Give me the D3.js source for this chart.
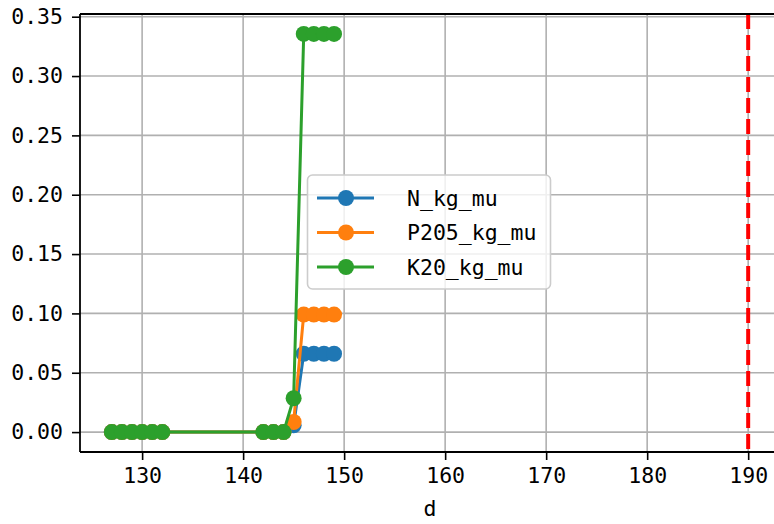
<!DOCTYPE html>
<html>
<head>
<meta charset="utf-8">
<script src="https://cdn.jsdelivr.net/npm/d3@7"></script>
<style>
  html, body { margin: 0; padding: 0; background: #fff; }
  svg { display: block; }
  text { font-family: "DejaVu Sans Mono", "Liberation Mono", monospace; }
</style>
</head>
<body>
<svg id="chart" width="774" height="524"></svg>
<script>
const days = [127, 128, 129, 130, 131, 132, 142, 143, 144, 145, 146, 147, 148, 149];
const nValues = [0, 0, 0, 0, 0, 0, 0, 0, 0, 0.0057, 0.066, 0.066, 0.066, 0.066];
const pValues = [0, 0, 0, 0, 0, 0, 0, 0, 0, 0.0085, 0.099, 0.099, 0.099, 0.099];
const kValues = [0, 0, 0, 0, 0, 0, 0, 0, 0, 0.0285, 0.3355, 0.3355, 0.3355, 0.3355];
const seriesNames = ["N_kg_mu", "P205_kg_mu", "K20_kg_mu"];
const seriesColors = ["#1f77b4", "#ff7f0e", "#2ca02c"];
const xTicks = [130, 140, 150, 160, 170, 180, 190];
const yTicks = [0, 0.05, 0.10, 0.15, 0.20, 0.25, 0.30, 0.35];
const vLineX = 190;
const xLabel = "d";

(function () {
const series = [nValues, pValues, kValues].map((vals, i) => ({
  name: seriesNames[i], color: seriesColors[i],
  points: days.map((d, j) => ({ d, v: vals[j] }))
}));

const svg = d3.select("#chart");
const mLeft = 80, mRight = 780, mTop = 14, mBottom = 452;

const xMin = d3.min(days), xMax = vLineX;
const xPad = (xMax - xMin) * 0.05;
const x = d3.scaleLinear().domain([xMin - xPad, xMax + xPad]).range([mLeft, mRight]);
const yMaxV = d3.max(kValues);
const yPad = yMaxV * 0.05;
const y = d3.scaleLinear().domain([-yPad, yMaxV + yPad]).range([mBottom, mTop]);

// grid
const grid = svg.append("g");
grid.selectAll(".gx").data(xTicks).enter().append("line")
  .attr("x1", d => x(d)).attr("x2", d => x(d))
  .attr("y1", mTop).attr("y2", mBottom)
  .attr("stroke", "#b0b0b0").attr("stroke-width", 1.6);
grid.selectAll(".gy").data(yTicks).enter().append("line")
  .attr("x1", mLeft).attr("x2", mRight)
  .attr("y1", d => y(d)).attr("y2", d => y(d))
  .attr("stroke", "#b0b0b0").attr("stroke-width", 1.6);

// series
const line = d3.line().x(p => x(p.d)).y(p => y(p.v));
series.forEach(s => {
  const g = svg.append("g");
  g.append("path").datum(s.points).attr("d", line)
    .attr("fill", "none").attr("stroke", s.color).attr("stroke-width", 3);
  g.selectAll("circle").data(s.points).enter().append("circle")
    .attr("cx", p => x(p.d)).attr("cy", p => y(p.v)).attr("r", 8)
    .attr("fill", s.color);
});

// vertical dashed line
svg.append("line")
  .attr("x1", x(vLineX)).attr("x2", x(vLineX))
  .attr("y1", mTop).attr("y2", mBottom)
  .attr("stroke", "red").attr("stroke-width", 4)
  .attr("stroke-dasharray", "15,6");

// axes
const xAxis = d3.axisBottom(x).tickValues(xTicks).tickSize(8).tickPadding(8)
  .tickFormat(d3.format("d"));
const gx = svg.append("g").attr("transform", `translate(0,${mBottom})`).call(xAxis);
gx.select(".domain").remove();
gx.selectAll(".tick line").attr("stroke", "#000").attr("stroke-width", 1.6);
gx.selectAll(".tick text").attr("font-size", 21.5).attr("fill", "#000")
  .attr("font-family", "DejaVu Sans Mono");

const yAxis = d3.axisLeft(y).tickValues(yTicks).tickSize(8).tickPadding(9)
  .tickFormat(d3.format(".2f"));
const gy = svg.append("g").attr("transform", `translate(${mLeft},0)`).call(yAxis);
gy.select(".domain").remove();
gy.selectAll(".tick line").attr("stroke", "#000").attr("stroke-width", 1.6);
gy.selectAll(".tick text").attr("font-size", 21.5).attr("fill", "#000")
  .attr("font-family", "DejaVu Sans Mono");

// spines
svg.append("line").attr("x1", mLeft).attr("x2", mLeft).attr("y1", mTop).attr("y2", mBottom)
  .attr("stroke", "#000").attr("stroke-width", 1.8);
svg.append("line").attr("x1", mLeft).attr("x2", mRight).attr("y1", mBottom).attr("y2", mBottom)
  .attr("stroke", "#000").attr("stroke-width", 1.8);
svg.append("line").attr("x1", mLeft).attr("x2", mRight).attr("y1", mTop).attr("y2", mTop)
  .attr("stroke", "#000").attr("stroke-width", 1.8);

// x label
svg.append("text").attr("x", (mLeft + mRight) / 2).attr("y", 516)
  .attr("text-anchor", "middle").attr("font-size", 21.5).attr("fill", "#000")
  .text(xLabel);

// legend
const lg = svg.append("g");
lg.append("rect").attr("x", 307.5).attr("y", 175).attr("width", 243).attr("height", 114)
  .attr("rx", 5).attr("fill", "#fff").attr("fill-opacity", 0.8)
  .attr("stroke", "#cccccc").attr("stroke-width", 1.6);
series.forEach((s, i) => {
  const cy = 198 + i * 34.5;
  lg.append("line").attr("x1", 317).attr("x2", 374).attr("y1", cy).attr("y2", cy)
    .attr("stroke", s.color).attr("stroke-width", 3);
  lg.append("circle").attr("cx", 346).attr("cy", cy).attr("r", 8).attr("fill", s.color);
  lg.append("text").attr("x", 407).attr("y", cy).attr("dy", "0.36em")
    .attr("font-size", 21.5).attr("fill", "#000").text(s.name);
});
})();
</script>
</body>
</html>
